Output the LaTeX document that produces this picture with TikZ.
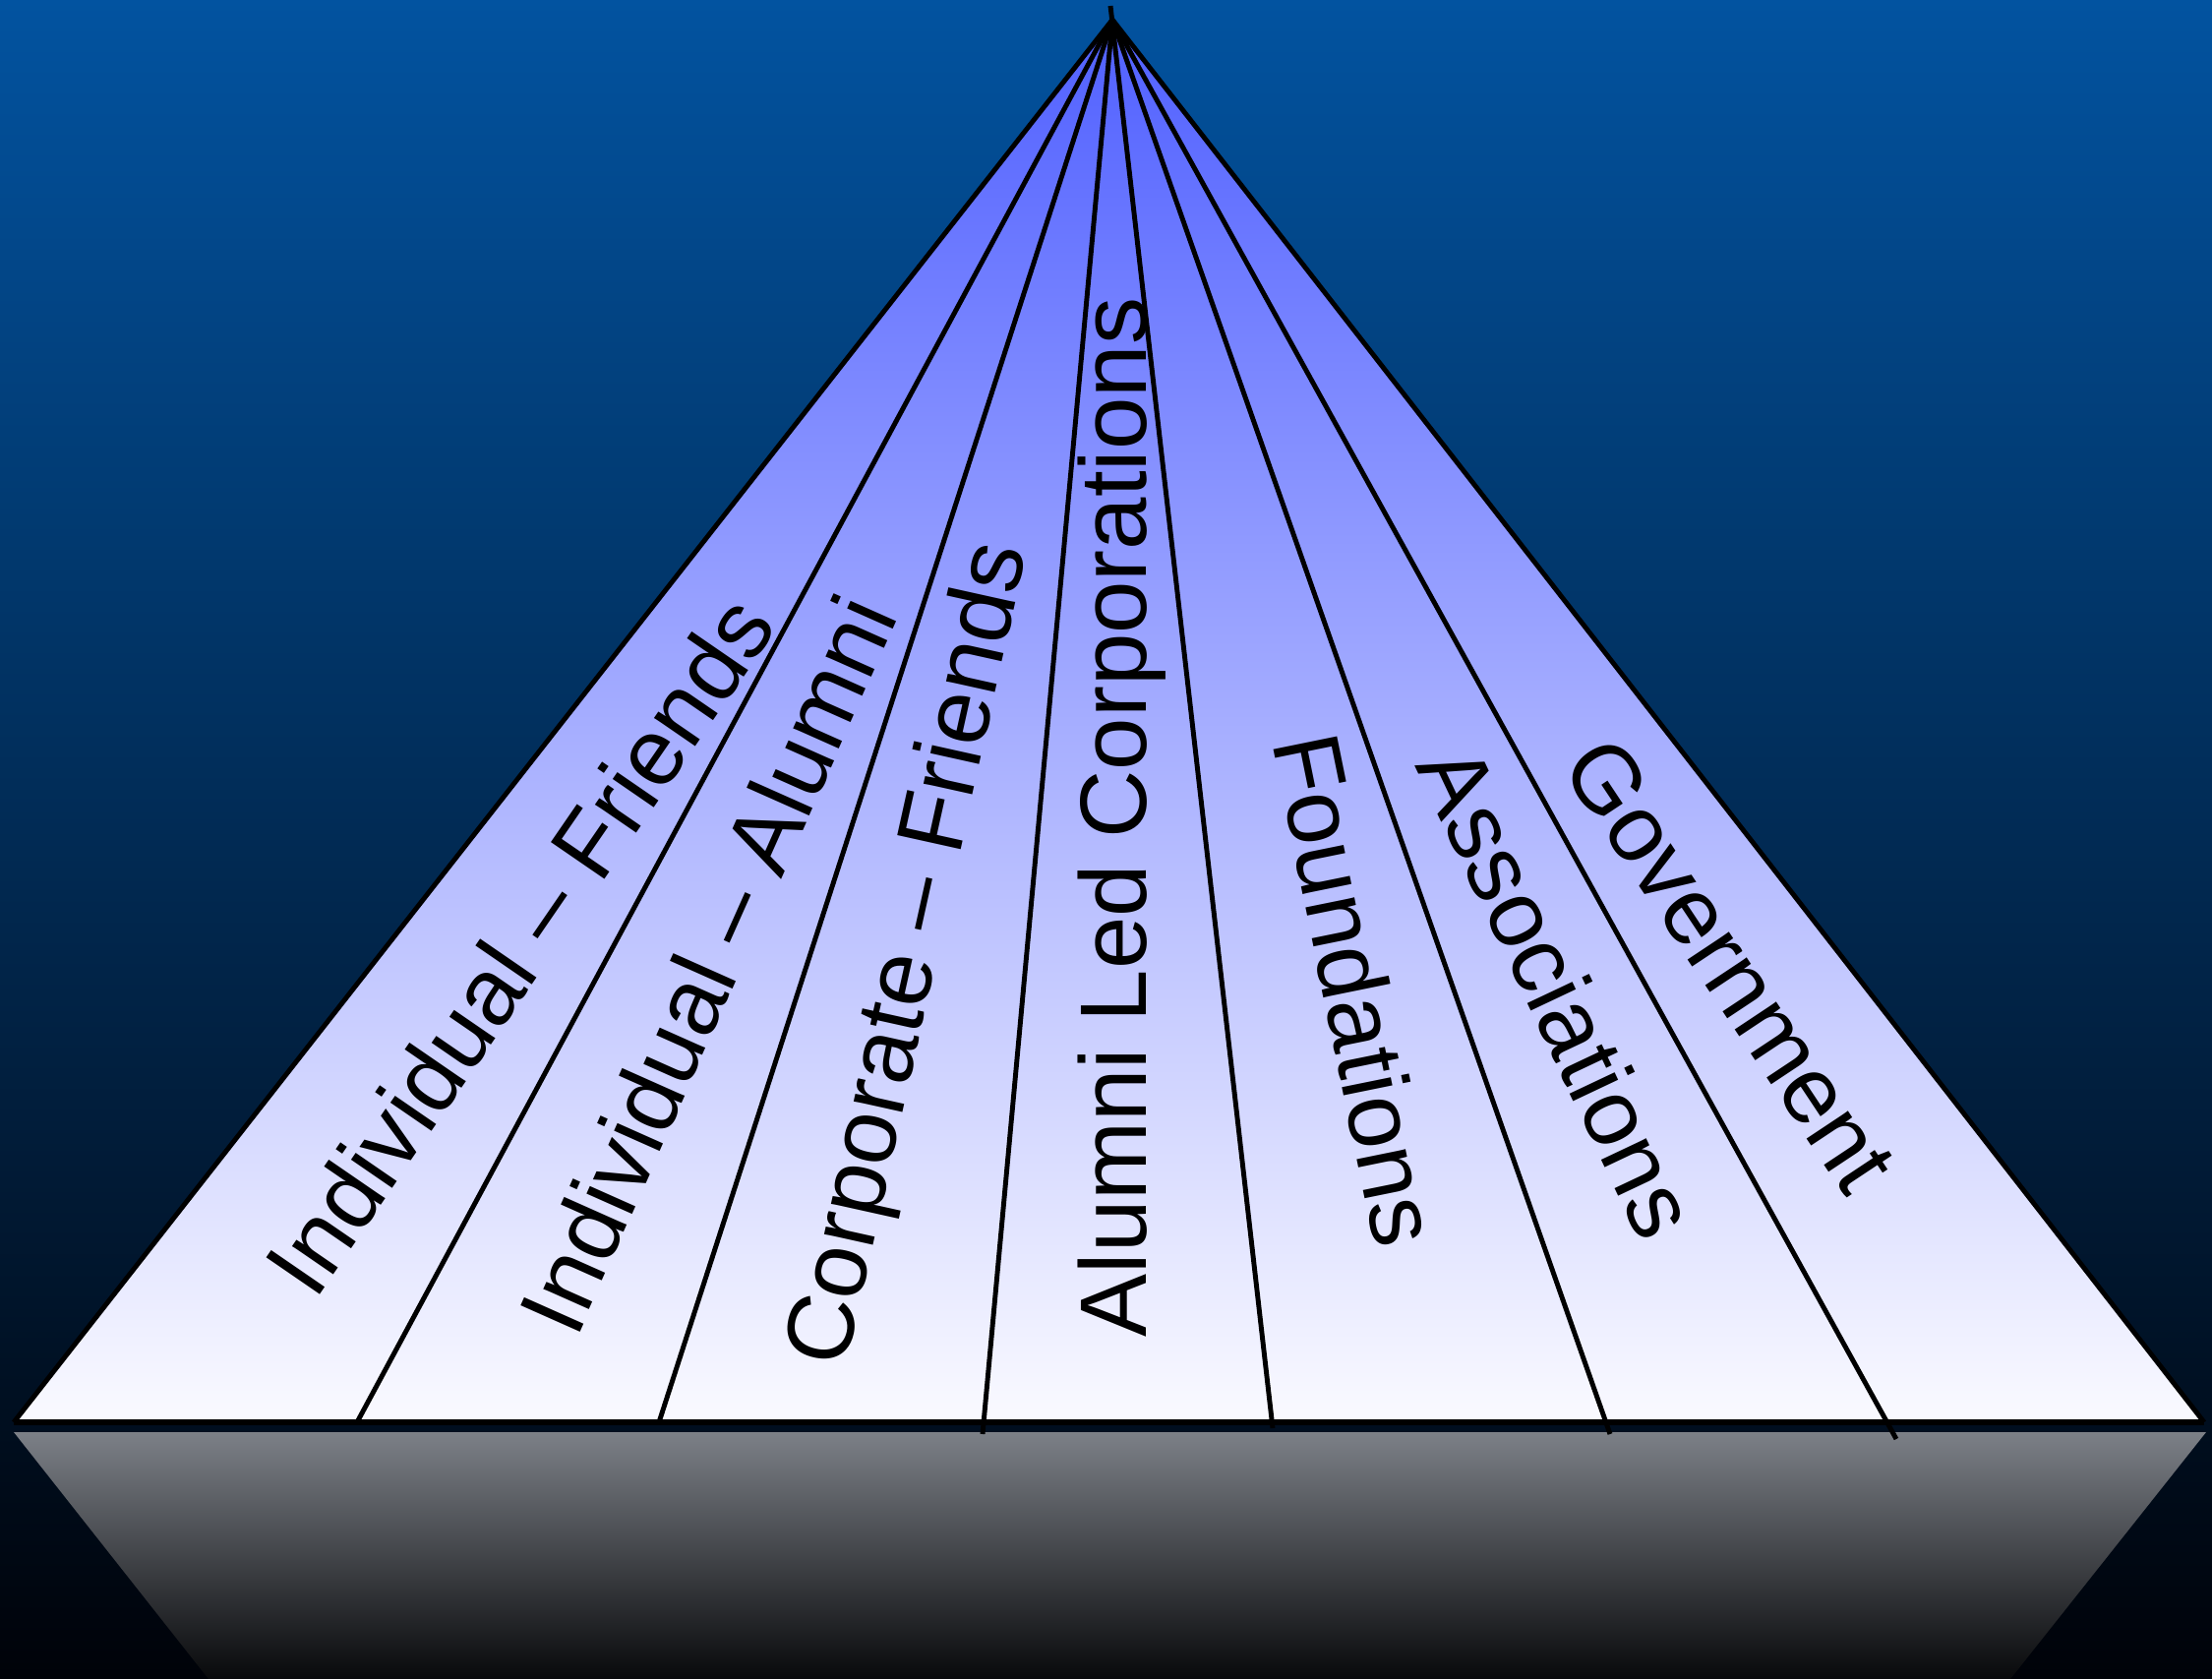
\documentclass[tikz,border=0pt]{standalone}
\usepackage{fontspec}
\setmainfont{Liberation Sans}
\definecolor{bgtop}{RGB}{2,83,160}
\definecolor{bgbot}{RGB}{0,2,8}
\definecolor{tritop}{RGB}{80,96,255}
\definecolor{tribot}{RGB}{250,250,255}
\definecolor{reftop}{RGB}{124,128,135}
\definecolor{refmid}{RGB}{45,49,56}
\definecolor{refbot}{RGB}{8,9,11}
\begin{document}
\begin{tikzpicture}[x=0.01cm,y=-0.01cm,
  divider/.style={line width=1.4pt, draw=black},
  tlabel/.style={font=\fontsize{27.3}{32}\selectfont, anchor=base, inner sep=0pt, text=black}]
\fill[top color=bgtop, bottom color=bgbot] (0,0) rectangle (2249,1707);
\useasboundingbox (0,0) rectangle (2249,1707);
% reflection
\coordinate (rtl) at (14,1456);
\coordinate (rtr) at (2243,1456);
\coordinate (rbr) at (2044,1707);
\coordinate (rbl) at (212,1707);
\shade[top color=reftop, middle color=refmid, bottom color=refbot] (rtl) -- (rtr) -- (rbr) -- (rbl) -- cycle;
% triangle
\coordinate (apex) at (1131,20);
\coordinate (bl) at (14,1446);
\coordinate (br) at (2241,1446);
\shade[top color=tritop, bottom color=tribot] (bl) -- (apex) -- (br) -- cycle;
% labels
\node[tlabel, rotate=55.5] (t1) at (556,980) {Individual – Friends};
\node[tlabel, rotate=66] (t2) at (750,994) {Individual – Alumni};
\node[tlabel, rotate=77.5] (t3) at (952,976) {Corporate – Friends};
\node[tlabel, rotate=90] (t4) at (1165,831) {Alumni Led Corporations};
\node[tlabel, rotate=-78.5] (t5) at (1346,1013) {Foundations};
\node[tlabel, rotate=-64.7] (t6) at (1554,1022) {Associations};
\node[tlabel, rotate=-56.4] (t7) at (1732,999) {Government};
% dividers
\coordinate (b1) at (363,1446);
\coordinate (b2) at (670,1446);
\coordinate (b3) at (999,1458);
\coordinate (b4) at (1294,1452);
\coordinate (b5) at (1637,1458);
\coordinate (b6) at (1928,1463);
\coordinate (top4) at (1129,6);
\draw[divider] (b1) -- (apex);
\draw[divider] (b2) -- (apex);
\draw[divider] (b3) -- (apex);
\draw[divider] (b4) -- (top4);
\draw[divider] (b5) -- (apex);
\draw[divider] (b6) -- (apex);
\draw[divider, line join=miter] (bl) -- (apex) -- (br);
\draw[line width=1.8pt] (bl) -- (br);
\end{tikzpicture}
\end{document}
